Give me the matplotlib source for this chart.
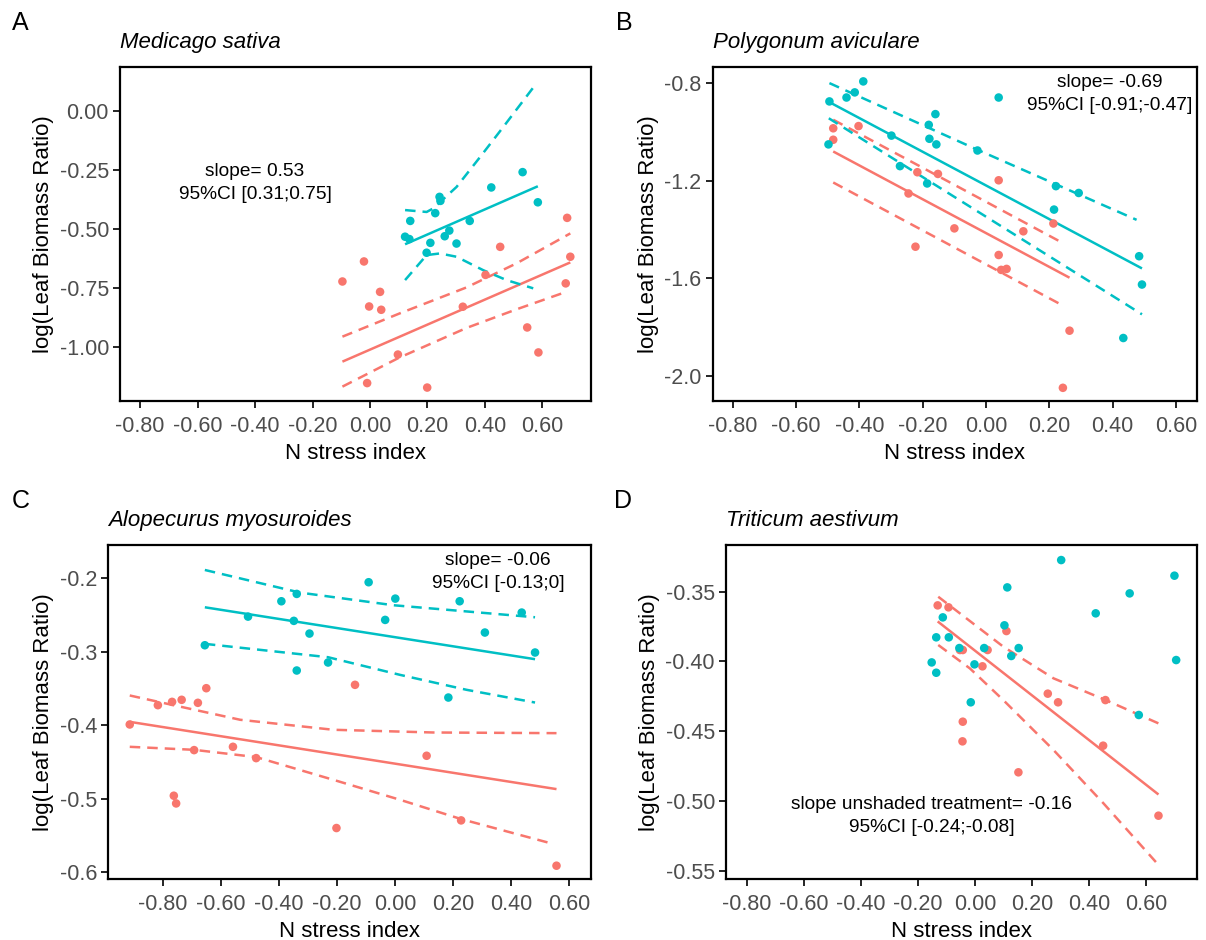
import matplotlib
matplotlib.use("Agg")
import matplotlib.pyplot as plt
from matplotlib.ticker import FixedLocator, FixedFormatter

plt.rcParams['font.family'] = ['Liberation Sans', 'DejaVu Sans']

RED = '#F8766D'
TEAL = '#00BFC4'

# ---------------- Panel A : Medicago sativa ----------------
a_teal_x = [0.122, 0.137, 0.140, 0.197, 0.210, 0.227, 0.242, 0.245, 0.260, 0.276, 0.301, 0.347, 0.422, 0.531, 0.584]
a_teal_y = [-0.532, -0.542, -0.465, -0.600, -0.558, -0.432, -0.363, -0.380, -0.530, -0.506, -0.561, -0.465, -0.323, -0.258, -0.386]
a_red_x = [-0.096, -0.021, -0.003, 0.035, 0.039, -0.010, 0.097, 0.199, 0.323, 0.402, 0.453, 0.547, 0.586, 0.681, 0.686, 0.697]
a_red_y = [-0.722, -0.637, -0.828, -0.766, -0.842, -1.153, -1.032, -1.172, -0.829, -0.694, -0.575, -0.917, -1.023, -0.730, -0.452, -0.617]
a_teal_fit_x = [0.122, 0.584]
a_teal_fit_y = [-0.564, -0.318]
a_teal_hi_x = [0.122, 0.197, 0.220, 0.301, 0.383, 0.464, 0.580]
a_teal_hi_y = [-0.419, -0.427, -0.412, -0.321, -0.194, -0.066, 0.120]
a_teal_lo_x = [0.122, 0.197, 0.243, 0.301, 0.394, 0.475, 0.568]
a_teal_lo_y = [-0.716, -0.610, -0.603, -0.617, -0.674, -0.716, -0.751]
a_red_fit_x = [-0.096, 0.697]
a_red_fit_y = [-1.062, -0.641]
a_red_hi_x = [-0.096, 0.104, 0.336, 0.510, 0.697]
a_red_hi_y = [-0.956, -0.857, -0.747, -0.645, -0.518]
a_red_lo_x = [-0.096, 0.100, 0.336, 0.510, 0.685]
a_red_lo_y = [-1.168, -1.046, -0.919, -0.840, -0.765]

# ---------------- Panel B : Polygonum aviculare ----------------
b_teal_x = [-0.495, -0.441, -0.415, -0.388, -0.498, -0.299, -0.272, -0.181, -0.179, -0.160, -0.157, -0.186, -0.027, 0.040, 0.221, 0.215, 0.293, 0.484, 0.493, 0.434]
b_teal_y = [-0.875, -0.859, -0.838, -0.793, -1.051, -1.015, -1.140, -0.971, -1.028, -0.927, -1.051, -1.211, -1.076, -0.859, -1.222, -1.318, -1.250, -1.509, -1.625, -1.844]
b_red_x = [-0.483, -0.483, -0.403, -0.245, -0.217, -0.152, -0.223, -0.100, 0.040, 0.040, 0.048, 0.065, 0.118, 0.213, 0.243, 0.264]
b_red_y = [-0.985, -1.032, -0.976, -1.252, -1.165, -1.172, -1.470, -1.395, -1.198, -1.504, -1.565, -1.561, -1.407, -1.375, -2.048, -1.814]
b_teal_fit_x = [-0.495, 0.493]
b_teal_fit_y = [-0.878, -1.559]
b_teal_hi_x = [-0.495, -0.027, 0.476]
b_teal_hi_y = [-0.800, -1.073, -1.360]
b_teal_lo_x = [-0.497, 0.493]
b_teal_lo_y = [-0.944, -1.747]
b_red_fit_x = [-0.483, 0.264]
b_red_fit_y = [-1.080, -1.597]
b_red_hi_x = [-0.483, 0.240]
b_red_hi_y = [-0.950, -1.453]
b_red_lo_x = [-0.483, 0.240]
b_red_lo_y = [-1.207, -1.709]

# ---------------- Panel C : Alopecurus myosuroides ----------------
c_teal_x = [-0.656, -0.507, -0.392, -0.339, -0.349, -0.295, -0.339, -0.231, -0.091, -0.034, 0.001, 0.223, 0.310, 0.184, 0.437, 0.483]
c_teal_y = [-0.2912, -0.2522, -0.2313, -0.2213, -0.2580, -0.2753, -0.3256, -0.3147, -0.2054, -0.2567, -0.2277, -0.2313, -0.2739, -0.3624, -0.2467, -0.3011]
c_red_x = [-0.915, -0.818, -0.769, -0.736, -0.680, -0.651, -0.693, -0.559, -0.479, -0.763, -0.755, -0.202, -0.138, 0.109, 0.228, 0.557]
c_red_y = [-0.3991, -0.3728, -0.3683, -0.3655, -0.3696, -0.3497, -0.4340, -0.4295, -0.4449, -0.4961, -0.5066, -0.5401, -0.3451, -0.4417, -0.5297, -0.5914]
c_teal_fit_x = [-0.656, 0.483]
c_teal_fit_y = [-0.2395, -0.3102]
c_teal_hi_x = [-0.656, -0.328, -0.006, 0.224, 0.483]
c_teal_hi_y = [-0.1887, -0.2195, -0.2367, -0.2444, -0.2531]
c_teal_lo_x = [-0.656, -0.231, 0.017, 0.247, 0.483]
c_teal_lo_y = [-0.2893, -0.3075, -0.3315, -0.3519, -0.3692]
c_red_fit_x = [-0.915, 0.557]
c_red_fit_y = [-0.3955, -0.4871]
c_red_hi_x = [-0.915, -0.770, -0.534, -0.213, 0.132, 0.557]
c_red_hi_y = [-0.3596, -0.3723, -0.3927, -0.4063, -0.4100, -0.4109]
c_red_lo_x = [-0.915, -0.693, -0.479, -0.213, 0.017, 0.228, 0.534]
c_red_lo_y = [-0.4295, -0.4336, -0.4435, -0.4744, -0.5016, -0.5279, -0.5605]

# ---------------- Panel D : Triticum aestivum ----------------
d_teal_x = [-0.152, -0.136, -0.136, -0.113, -0.092, -0.055, -0.015, -0.002, 0.032, 0.103, 0.113, 0.127, 0.153, 0.302, 0.423, 0.542, 0.574, 0.699, 0.705]
d_teal_y = [-0.4007, -0.3827, -0.4081, -0.3684, -0.3827, -0.3904, -0.4293, -0.4021, -0.3904, -0.3741, -0.3469, -0.3961, -0.3904, -0.3273, -0.3655, -0.3512, -0.4384, -0.3385, -0.3990]
d_red_x = [-0.131, -0.093, 0.110, -0.053, -0.043, 0.044, 0.026, -0.043, -0.044, 0.152, 0.255, 0.291, 0.457, 0.449, 0.643]
d_red_y = [-0.3598, -0.3612, -0.3782, -0.3918, -0.3918, -0.3918, -0.4035, -0.4432, -0.4573, -0.4795, -0.4231, -0.4293, -0.4277, -0.4604, -0.5106]
d_red_fit_x = [-0.131, 0.643]
d_red_fit_y = [-0.3713, -0.4954]
d_red_hi_x = [-0.129, 0.099, 0.275, 0.458, 0.643]
d_red_hi_y = [-0.3536, -0.3894, -0.4121, -0.4277, -0.4444]
d_red_lo_x = [-0.129, -0.018, 0.099, 0.275, 0.450, 0.643]
d_red_lo_y = [-0.3882, -0.4050, -0.4277, -0.4635, -0.5017, -0.5459]

# ---------------- labels ----------------
x_ticks = [-0.8, -0.6, -0.4, -0.2, 0.0, 0.2, 0.4, 0.6]
x_tick_labels = ["-0.80", "-0.60", "-0.40", "-0.20", "0.00", "0.20", "0.40", "0.60"]
a_y_ticks = [0.0, -0.25, -0.5, -0.75, -1.0]
a_y_labels = ["0.00", "-0.25", "-0.50", "-0.75", "-1.00"]
b_y_ticks = [-0.8, -1.2, -1.6, -2.0]
b_y_labels = ["-0.8", "-1.2", "-1.6", "-2.0"]
c_y_ticks = [-0.2, -0.3, -0.4, -0.5, -0.6]
c_y_labels = ["-0.2", "-0.3", "-0.4", "-0.5", "-0.6"]
d_y_ticks = [-0.35, -0.40, -0.45, -0.50, -0.55]
d_y_labels = ["-0.35", "-0.40", "-0.45", "-0.50", "-0.55"]

species = ["Medicago sativa", "Polygonum aviculare", "Alopecurus myosuroides", "Triticum aestivum"]
tags = ["A", "B", "C", "D"]
notes = ["slope= 0.53\n95%CI [0.31;0.75]",
         "slope= -0.69\n95%CI [-0.91;-0.47]",
         "slope= -0.06\n95%CI [-0.13;0]",
         "slope unshaded treatment= -0.16\n95%CI [-0.24;-0.08]"]

W, H = 1206, 940
fig = plt.figure(figsize=(W / 100, H / 100), dpi=100)
fig.patch.set_facecolor('white')


def px_rect(l, r, t, b):
    return [l / W, 1 - b / H, (r - l) / W, (b - t) / H]


axes_px = [(120, 591, 67, 401), (712.7, 1196.7, 67, 401),
           (108.3, 591, 545, 879), (726, 1196.7, 545, 879)]
xlims = [(-0.870, 0.769), (-0.864, 0.666), (-0.989, 0.676), (-0.873, 0.777)]
ylims = [(-1.229, 0.188), (-2.102, -0.734), (-0.6095, -0.1547), (-0.556, -0.3165)]
note_pos = [(-0.40, -0.305), (0.392, -0.844), (0.355, -0.1916), (-0.151, -0.511)]
tag_px = [(12, 30), (616, 30), (12, 508), (614, 508)]

panels = [
    dict(pts=[(a_red_x, a_red_y, RED), (a_teal_x, a_teal_y, TEAL)],
         fits=[(a_red_fit_x, a_red_fit_y, RED), (a_teal_fit_x, a_teal_fit_y, TEAL)],
         cis=[(a_red_hi_x, a_red_hi_y, RED), (a_red_lo_x, a_red_lo_y, RED),
              (a_teal_hi_x, a_teal_hi_y, TEAL), (a_teal_lo_x, a_teal_lo_y, TEAL)],
         yt=a_y_ticks, yl=a_y_labels),
    dict(pts=[(b_red_x, b_red_y, RED), (b_teal_x, b_teal_y, TEAL)],
         fits=[(b_red_fit_x, b_red_fit_y, RED), (b_teal_fit_x, b_teal_fit_y, TEAL)],
         cis=[(b_red_hi_x, b_red_hi_y, RED), (b_red_lo_x, b_red_lo_y, RED),
              (b_teal_hi_x, b_teal_hi_y, TEAL), (b_teal_lo_x, b_teal_lo_y, TEAL)],
         yt=b_y_ticks, yl=b_y_labels),
    dict(pts=[(c_red_x, c_red_y, RED), (c_teal_x, c_teal_y, TEAL)],
         fits=[(c_red_fit_x, c_red_fit_y, RED), (c_teal_fit_x, c_teal_fit_y, TEAL)],
         cis=[(c_red_hi_x, c_red_hi_y, RED), (c_red_lo_x, c_red_lo_y, RED),
              (c_teal_hi_x, c_teal_hi_y, TEAL), (c_teal_lo_x, c_teal_lo_y, TEAL)],
         yt=c_y_ticks, yl=c_y_labels),
    dict(pts=[(d_red_x, d_red_y, RED), (d_teal_x, d_teal_y, TEAL)],
         fits=[(d_red_fit_x, d_red_fit_y, RED)],
         cis=[(d_red_hi_x, d_red_hi_y, RED), (d_red_lo_x, d_red_lo_y, RED)],
         yt=d_y_ticks, yl=d_y_labels),
]

for i, p in enumerate(panels):
    ax = fig.add_axes(px_rect(*axes_px[i]))
    for xs, ys, c in p['pts']:
        ax.scatter(xs, ys, s=38, color=c, edgecolors='none', zorder=3)
    for xs, ys, c in p['fits']:
        ax.plot(xs, ys, color=c, lw=1.8, solid_capstyle='butt', zorder=2)
    for xs, ys, c in p['cis']:
        ax.plot(xs, ys, color=c, lw=1.8, dashes=(4.2, 2.8), zorder=2)
    ax.set_xlim(*xlims[i])
    ax.set_ylim(*ylims[i])
    ax.xaxis.set_major_locator(FixedLocator(x_ticks))
    ax.xaxis.set_major_formatter(FixedFormatter(x_tick_labels))
    ax.yaxis.set_major_locator(FixedLocator(p['yt']))
    ax.yaxis.set_major_formatter(FixedFormatter(p['yl']))
    ax.tick_params(axis='both', which='major', length=5, width=1.2,
                   color='black', labelsize=15.5, labelcolor='#4D4D4D')
    ax.tick_params(axis='x', pad=5.5)
    ax.tick_params(axis='y', pad=3)
    for s in ax.spines.values():
        s.set_linewidth(1.6)
        s.set_color('black')
    ax.set_xlabel("N stress index", fontsize=16, color='black', labelpad=4.5)
    ax.set_ylabel("log(Leaf Biomass Ratio)", fontsize=16, color='black', labelpad=4)
    ax.set_title(species[i], loc='left', fontstyle='italic', fontsize=16, pad=14)
    nx, ny = note_pos[i]
    ax.text(nx, ny, notes[i], ha='center', va='center', fontsize=13.8,
            color='black', linespacing=1.5)
    tx, ty = tag_px[i]
    fig.text(tx / W, 1 - ty / H, tags[i], fontsize=18, ha='left', va='baseline')

fig.savefig("out.png", dpi=100, facecolor='white')
